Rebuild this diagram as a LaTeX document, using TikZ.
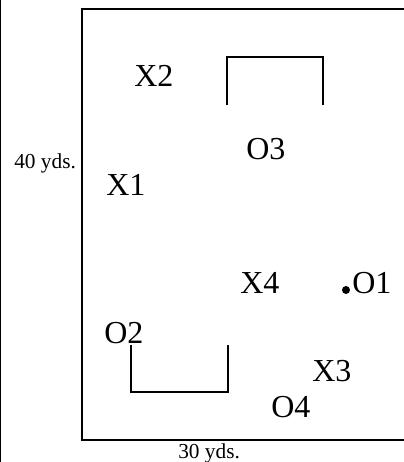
\documentclass[tikz,border=0pt]{standalone}
\usepackage{fontspec}
\setmainfont{Liberation Serif}
\begin{document}
\begin{tikzpicture}[x=0.75pt,y=-0.75pt,
  lbl/.style={inner sep=0pt,anchor=base west,font=\fontsize{24}{28}\selectfont},
  dim/.style={inner sep=0pt,anchor=base west,font=\fontsize{16}{19}\selectfont},
  field/.style={line width=1.5pt},
  cup/.style={line width=1.1pt}]
\useasboundingbox (0,0) rectangle (404,462);
% page edge line
\draw[line width=1.1pt] (0.75,0) -- (0.75,462);
% field (right side out of view)
\draw[field] (404,9) -- (82,9) -- (82,440) -- (404,440);
% goals
\draw[cup] (227,105) -- (227,57) -- (323,57) -- (323,105);
\draw[cup] (131,345) -- (131,392) -- (228,392) -- (228,345);
% players
\node[lbl] (x2) at (134,86) {X2};
\node[lbl] (o3) at (246,159) {O3};
\node[lbl] (x1) at (106,195) {X1};
\node[lbl] (x4) at (240,293) {X4};
\node[lbl] (o1) at (352,293) {O1};
\node[lbl] (o2) at (104,343) {O2};
\node[lbl] (x3) at (312,381) {X3};
\node[lbl] (o4) at (271,417) {O4};
\fill (346,290) circle (4);
% dimensions
\node[dim] (h) at (14,168) {40 yds.};
\node[dim] (w) at (178,458) {30 yds.};
\end{tikzpicture}
\end{document}
